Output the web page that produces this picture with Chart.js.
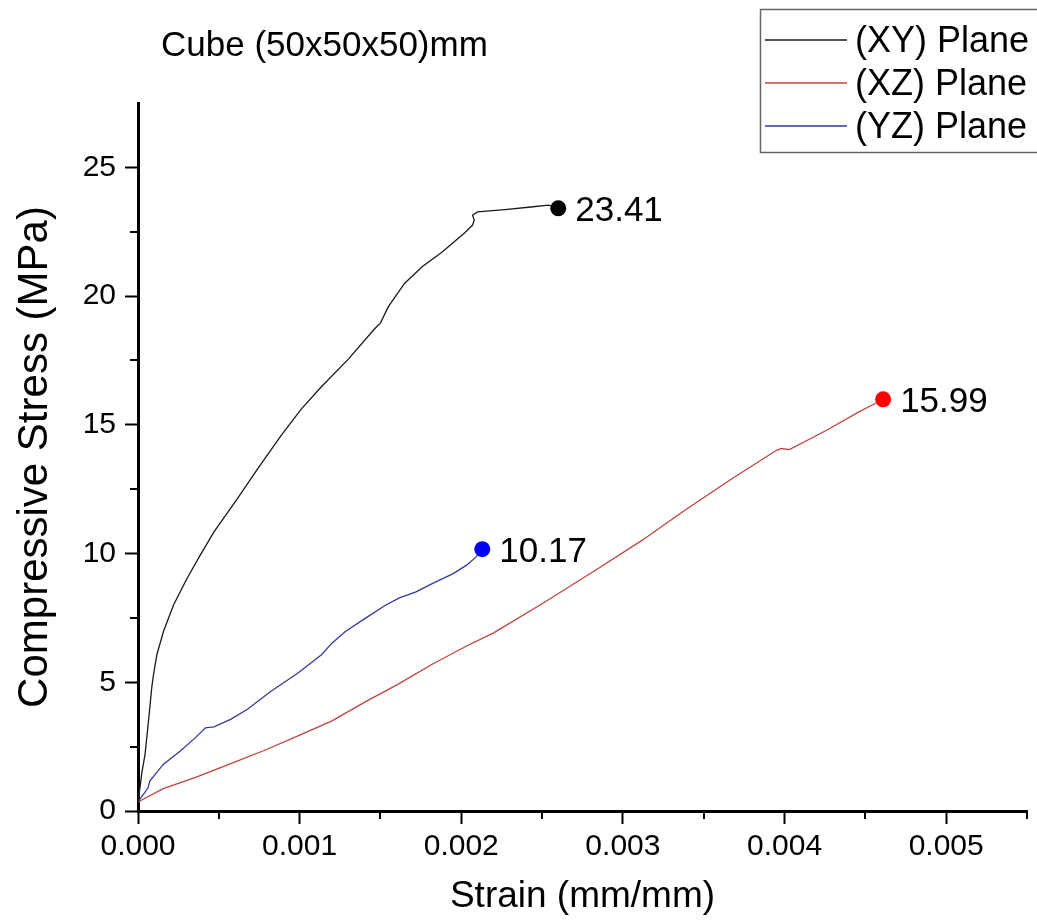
<!DOCTYPE html>
<html>
<head>
<meta charset="utf-8">
<title>Cube (50x50x50)mm</title>
<script src="https://cdn.jsdelivr.net/npm/chart.js@4.4.1/dist/chart.umd.min.js"></script>
<style>
  body { margin: 0; background: #fff; }
  #wrap { width: 1037px; height: 923px; }
</style>
</head>
<body>
<div id="wrap"><canvas id="chart" width="1037" height="923"></canvas></div>
<script>
// Data (strain in mm/mm, stress in MPa)
const seriesNames = ['(XY) Plane', '(XZ) Plane', '(YZ) Plane'];

const xyStrain = [0, 0.000012, 0.000023, 0.000044, 0.000065, 0.000085, 0.000096, 0.000117, 0.000158, 0.00022,
  0.000303, 0.000385, 0.00047, 0.000615, 0.00074, 0.000885, 0.00101, 0.00113, 0.0013, 0.00146,
  0.0015, 0.00155, 0.00165, 0.00176, 0.00188, 0.00202, 0.00207, 0.00208, 0.00207, 0.0021,
  0.00227, 0.00243, 0.00254, 0.0026];
const xyStress = [0.35, 0.9, 1.45, 2.22, 3.5, 4.79, 5.3, 6.08, 6.98, 8.0,
  9.03, 9.94, 10.84, 12.13, 13.29, 14.58, 15.61, 16.45, 17.54, 18.7,
  18.96, 19.6, 20.5, 21.15, 21.7, 22.45, 22.76, 22.95, 23.14, 23.27,
  23.36, 23.46, 23.53, 23.41];

const xzStrain = [0, 0.000156, 0.00036, 0.00057, 0.00078, 0.00099, 0.0012, 0.0014, 0.00161, 0.00182,
  0.00203, 0.0022, 0.0025, 0.00283, 0.00312, 0.00337, 0.00366, 0.00395, 0.00398, 0.00403,
  0.00426, 0.00446, 0.00454, 0.00461];
const xzStress = [0.35, 0.87, 1.32, 1.83, 2.35, 2.92, 3.5, 4.22, 4.93, 5.7,
  6.4, 6.92, 8.05, 9.35, 10.52, 11.62, 12.85, 14.01, 14.08, 14.04,
  14.79, 15.5, 15.76, 15.99];

const yzStrain = [0, 0.0000625, 0.000073, 0.000156, 0.00026, 0.000354, 0.000417, 0.00047, 0.000573, 0.000677,
  0.000823, 0.00099, 0.001135, 0.0012, 0.001283, 0.001408, 0.001533, 0.001617, 0.00172, 0.001823,
  0.00195, 0.002033, 0.002092, 0.00213];
const yzStress = [0.35, 0.9, 1.16, 1.81, 2.32, 2.84, 3.23, 3.27, 3.56, 3.95,
  4.65, 5.36, 6.07, 6.52, 6.97, 7.49, 8.0, 8.28, 8.51, 8.84,
  9.22, 9.55, 9.87, 10.17];

// Axis ticks
const xTicks = [0, 0.001, 0.002, 0.003, 0.004, 0.005];
const xMinor = [0.0005, 0.0015, 0.0025, 0.0035, 0.0045, 0.0055];
const yTicks = [0, 5, 10, 15, 20, 25];
const yMinor = [2.5, 7.5, 12.5, 17.5, 22.5];

const FONT = "'Liberation Sans', Arial, sans-serif";
const lineColors = ['#1a1a1a', '#c0433f', '#38389a'];
const dotColors = ['#000000', '#ff0000', '#0000ff'];

function toPoints(xs, ys) {
    return xs.map((x, i) => ({ x: x, y: ys[i] }));
}

const allSeries = [
    toPoints(xyStrain, xyStress),
    toPoints(xzStrain, xzStress),
    toPoints(yzStrain, yzStress)
];

const datasets = allSeries.map((pts, i) => ({
    label: seriesNames[i],
    data: pts,
    borderColor: lineColors[i],
    borderWidth: 1.3,
    backgroundColor: dotColors[i],
    pointBackgroundColor: dotColors[i],
    pointBorderColor: dotColors[i],
    pointBorderWidth: 0,
    pointRadius: ctx => ctx.dataIndex === pts.length - 1 ? 8 : 0,
    pointHoverRadius: 0,
    tension: 0,
    clip: false
}));

// Title, legend, minor ticks and end-point values
const extras = {
    id: 'extras',
    afterDraw(chart) {
        const ctx = chart.ctx;
        const xs = chart.scales.x, ys = chart.scales.y;
        const area = chart.chartArea;
        ctx.save();

        // minor ticks
        ctx.strokeStyle = '#000';
        ctx.lineWidth = 2;
        xMinor.forEach(v => {
            const px = Math.round(xs.getPixelForValue(v));
            ctx.beginPath();
            ctx.moveTo(px, area.bottom);
            ctx.lineTo(px, area.bottom + 8);
            ctx.stroke();
        });
        yMinor.forEach(v => {
            const py = Math.round(ys.getPixelForValue(v));
            ctx.beginPath();
            ctx.moveTo(area.left, py);
            ctx.lineTo(area.left - 8, py);
            ctx.stroke();
        });

        // values next to the end points
        ctx.fillStyle = '#000';
        ctx.font = '35px ' + FONT;
        ctx.textBaseline = 'middle';
        ctx.textAlign = 'left';
        chart.data.datasets.forEach((ds, i) => {
            const meta = chart.getDatasetMeta(i);
            const pt = meta.data[meta.data.length - 1];
            const val = ds.data[ds.data.length - 1].y;
            ctx.fillText(val.toFixed(2), pt.x + 17, pt.y + 3);
        });

        // title
        ctx.font = '35px ' + FONT;
        ctx.textBaseline = 'alphabetic';
        ctx.fillText('Cube (50x50x50)mm', 161, 56);

        // legend
        ctx.strokeStyle = '#666';
        ctx.lineWidth = 1.5;
        ctx.strokeRect(760.5, 9.5, 300, 143);
        ctx.font = '36px ' + FONT;
        ctx.textBaseline = 'middle';
        const rows = [40, 83, 126];
        chart.data.datasets.forEach((ds, i) => {
            ctx.strokeStyle = ds.borderColor;
            ctx.lineWidth = 1.3;
            ctx.beginPath();
            ctx.moveTo(765, rows[i]);
            ctx.lineTo(847, rows[i]);
            ctx.stroke();
            ctx.fillStyle = '#000';
            ctx.fillText(ds.label, 855, rows[i] + 2);
        });

        ctx.restore();
    }
};

const chart = new Chart(document.getElementById('chart').getContext('2d'), {
    type: 'line',
    data: { datasets: datasets },
    options: {
        responsive: false,
        animation: false,
        devicePixelRatio: 1,
        layout: { padding: { top: 103, right: 10, left: 0, bottom: 0 } },
        plugins: {
            legend: { display: false },
            tooltip: { enabled: false }
        },
        scales: {
            x: {
                type: 'linear',
                min: 0,
                max: 0.0055,
                afterBuildTicks: s => { s.ticks = xTicks.map(v => ({ value: v })); },
                afterFit: s => { s.height = 112; },
                ticks: {
                    callback: v => Number(v).toFixed(3),
                    font: { family: FONT, size: 30 },
                    color: '#000',
                    padding: 5,
                    maxRotation: 0,
                    autoSkip: false
                },
                grid: { drawOnChartArea: false, tickLength: 13, tickWidth: 2, tickColor: '#000' },
                border: { color: '#000', width: 3 },
                title: {
                    display: true,
                    text: 'Strain (mm/mm)',
                    font: { family: FONT, size: 37 },
                    color: '#000',
                    padding: { top: 0, bottom: 4 }
                }
            },
            y: {
                type: 'linear',
                min: 0,
                max: 27.5,
                afterBuildTicks: s => { s.ticks = yTicks.map(v => ({ value: v })); },
                afterFit: s => { s.width = 138; },
                ticks: {
                    font: { family: FONT, size: 30 },
                    color: '#000',
                    padding: 9,
                    autoSkip: false
                },
                grid: { drawOnChartArea: false, tickLength: 13, tickWidth: 2, tickColor: '#000' },
                border: { color: '#000', width: 3 },
                title: {
                    display: true,
                    text: 'Compressive Stress (MPa)',
                    font: { family: FONT, size: 42 },
                    color: '#000',
                    padding: { top: 10, bottom: 0 }
                }
            }
        }
    },
    plugins: [extras]
});
</script>
</body>
</html>
